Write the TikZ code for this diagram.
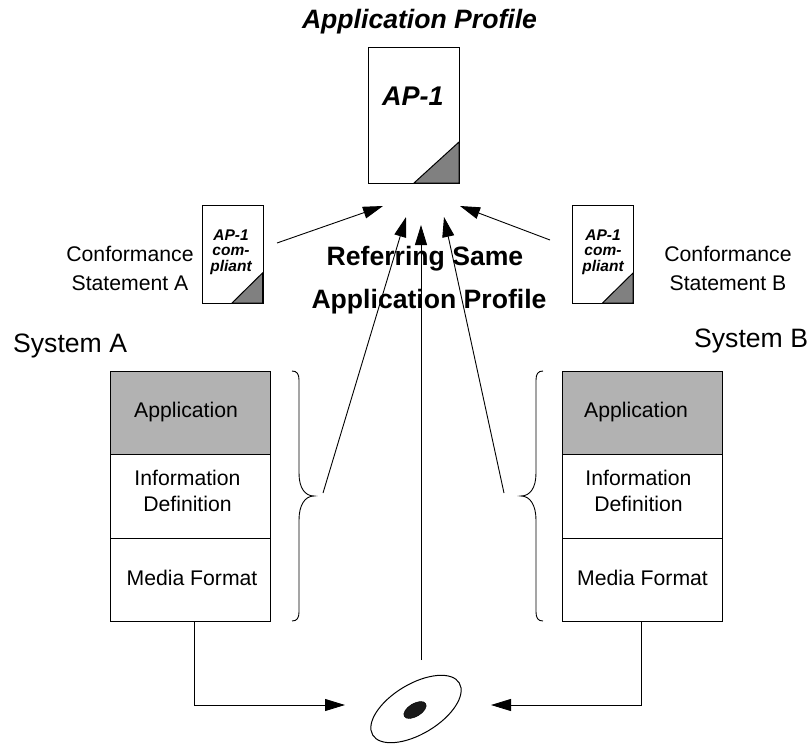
\documentclass[tikz,border=0pt]{standalone}
\usepackage{fontspec}
\setmainfont{Liberation Sans}
\usetikzlibrary{shapes,shapes.geometric,positioning,arrows.meta,calc}
\definecolor{cornergray}{HTML}{808080}
\definecolor{appgray}{HTML}{B2B2B2}
\tikzset{
  plain/.style={font=\fontsize{21.2}{26}\selectfont,align=center,inner sep=0pt},
  confn/.style={font=\fontsize{21.2}{29}\selectfont,align=center,inner sep=0pt},
  syslabel/.style={font=\fontsize{26.6}{30}\selectfont,inner sep=0pt},
  boldlabel/.style={font=\fontsize{26.6}{30}\selectfont\bfseries,inner sep=0pt},
  titlelabel/.style={font=\fontsize{26.6}{30}\selectfont\bfseries\itshape,inner sep=0pt},
  doclabel/.style={font=\fontsize{15.5}{15.7}\selectfont\bfseries\itshape,align=center,inner sep=0pt},
  layer/.style={draw,line width=0.9pt,minimum width=160pt,inner sep=0pt,anchor=north west},
  page/.style={draw,line width=1pt,inner sep=0pt,anchor=north west},
  corner/.style={draw,line width=1pt,fill=cornergray},
  conn/.style={line width=0.9pt},
  arr/.style={conn,-{Triangle[length=20pt,width=12pt]}},
  curly/.style={line width=0.9pt}
}
\begin{document}
\begin{tikzpicture}[x=1pt,y=-1pt]
        \useasboundingbox (0,0) rectangle (809,744);
        % profile
        \node[titlelabel] (title) at (419.5,22) {Application Profile};
        \node[page,minimum width=91pt,minimum height=136pt] (ap) at (368,47) {};
        \draw[corner] (414,183) -- (459,142) -- (459,183) -- cycle;
        \node[font=\fontsize{27}{30}\selectfont\bfseries\itshape,inner sep=0pt] (aplabel) at (413,96) {AP-1};
        % statements
        \node[page,minimum width=61pt,minimum height=98pt] (docA) at (201.5,205) {};
        \draw[corner] (232,303) -- (262.5,273) -- (262.5,303) -- cycle;
        \node[doclabel] (docAlabel) at (231,252) {AP-1\\com-\\pliant};
        \node[page,minimum width=61pt,minimum height=98pt] (docB) at (572,205) {};
        \draw[corner] (602.5,303) -- (633,273) -- (633,303) -- cycle;
        \node[doclabel] (docBlabel) at (603,252) {AP-1\\com-\\pliant};
        \node[confn] (confA) at (130,268.5) {Conformance\\Statement A};
        \node[confn] (confB) at (728,268.5) {Conformance\\Statement B};
        \node[boldlabel] (refer1) at (425,259) {Referring Same};
        \node[boldlabel] (refer2) at (429,302) {Application Profile};
        % systems
        \node[syslabel,anchor=west] (sysA) at (13,346) {System A};
        \node[syslabel,anchor=west] (sysB) at (694,341) {System B};
        \node[layer,fill=appgray,minimum height=83pt] (appA) at (110,371) {};
        \node[layer,minimum height=84pt] (infoA) at (110,454) {};
        \node[layer,minimum height=83pt] (mediaA) at (110,538) {};
        \node[layer,fill=appgray,minimum height=83pt] (appB) at (562,371) {};
        \node[layer,minimum height=84pt] (infoB) at (562,454) {};
        \node[layer,minimum height=83pt] (mediaB) at (562,538) {};
        \node[plain] at (186,412) {Application};
        \node[plain] at (187.5,491) {Information\\Definition};
        \node[plain] at (192,578) {Media Format};
        \node[plain] at (636,412) {Application};
        \node[plain] at (638.5,491) {Information\\Definition};
        \node[plain] at (642.5,578) {Media Format};
        % braces
        \draw[curly] (292,371) .. controls (297,371) and (299,374) .. (299,380) -- (299,473)
            .. controls (299,488) and (305,496) .. (314,496)
            .. controls (305,496) and (299,505) .. (299,520) -- (299,612)
            .. controls (299,618) and (297,621) .. (292,621);
        \draw[curly] (543,371) .. controls (538,371) and (536,374) .. (536,380) -- (536,473)
            .. controls (536,488) and (530,496) .. (521,496)
            .. controls (530,496) and (536,505) .. (536,520) -- (536,612)
            .. controls (536,618) and (538,621) .. (543,621);
        % disc
        \node[draw,ellipse,rotate=31,line width=1pt,minimum width=101pt,minimum height=50pt,inner sep=0pt] (disc) at (416,709) {};
        \node[draw,ellipse,rotate=31,fill=black!90,minimum width=25pt,minimum height=13pt,inner sep=0pt] (hole) at (415,710) {};
        % free ends
        \coordinate (tipA) at (383,206);
        \coordinate (tipB) at (460,206);
        \coordinate (tipL) at (406,217);
        \coordinate (tipM) at (421,225);
        \coordinate (tipR) at (444,217);
        \coordinate (startA) at (277,243);
        \coordinate (startB) at (550,240);
        \coordinate (startL) at (323,493);
        \coordinate (startM) at (421,660);
        \coordinate (startR) at (504,493);
        \coordinate (inA) at (345,705);
        \coordinate (inB) at (491,705);
        \draw[arr] (startA) -- (tipA);
        \draw[arr] (startB) -- (tipB);
        \draw[arr] (startL) -- (tipL);
        \draw[arr] (startM) -- (tipM);
        \draw[arr] (startR) -- (tipR);
        \draw[arr] (mediaA.south -| 194,0) |- (inA);
        \draw[arr] (mediaB.south -| 641,0) |- (inB);
    \end{tikzpicture}
\end{document}
